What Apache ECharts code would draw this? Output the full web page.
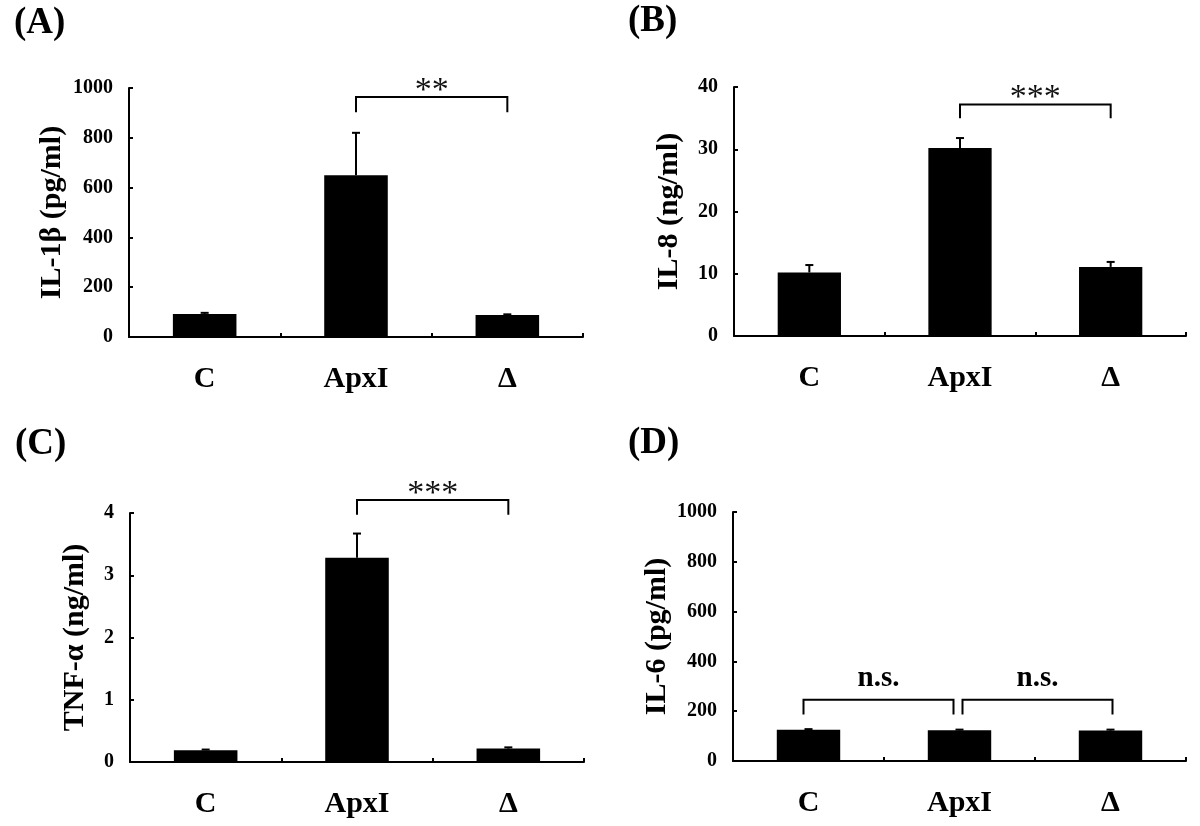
<!DOCTYPE html>
<html><head><meta charset="utf-8">
<script src="https://cdn.jsdelivr.net/npm/echarts@6/dist/echarts.min.js"></script>
<style>html,body{margin:0;padding:0;background:#fff}#chart{width:1200px;height:826px}</style>
</head><body><div id="chart"></div>
<script>
// ---------- data ----------
const categories = ['C', 'ApxI', 'Δ'];

const il1bMeans  = [92, 650, 88];
const il1bErrors = [5, 170, 3];
const il8Means   = [10.2, 30.2, 11.1];
const il8Errors  = [1.2, 1.6, 0.8];
const tnfMeans   = [0.19, 3.28, 0.215];
const tnfErrors  = [0.01, 0.39, 0.02];
const il6Means   = [126, 123, 122];
const il6Errors  = [2, 3, 4];

// y-axis ticks: [min, max, interval]
const il1bTicks = [0, 1000, 200];
const il8Ticks  = [0, 40, 10];
const tnfTicks  = [0, 4, 1];
const il6Ticks  = [0, 1000, 200];

// brackets: [fromCategory, toCategory, barValue, legEndValue, label]
const il1bBrackets = [[1, 2, 964, 903, '**']];
const il8Brackets  = [[1, 2, 37.2, 35.0, '***']];
const tnfBrackets  = [[1, 2, 4.21, 3.97, '***']];
const il6Brackets  = [[0, 1, 246, 187, 'n.s.'], [1, 2, 246, 187, 'n.s.']];

const panelLetters = ['(A)', '(B)', '(C)', '(D)'];
const yTitles = ['IL-1β (pg/ml)', 'IL-8 (ng/ml)', 'TNF-α (ng/ml)', 'IL-6 (pg/ml)'];

// ---------- layout / style ----------
const FONT = "'Liberation Serif', 'Times New Roman', serif";
const panels = [
  { means: il1bMeans, errs: il1bErrors, ticks: il1bTicks, brackets: il1bBrackets,
    grid: { left: 129, top: 88, width: 454, height: 249 }, nameGap: 62,
    shifts: [[0, 0]], bold: false, letterPos: [14, 5] },
  { means: il8Means, errs: il8Errors, ticks: il8Ticks, brackets: il8Brackets,
    grid: { left: 734, top: 87, width: 452, height: 249 }, nameGap: 50,
    shifts: [[0, 0]], bold: false, letterPos: [628, 3] },
  { means: tnfMeans, errs: tnfErrors, ticks: tnfTicks, brackets: tnfBrackets,
    grid: { left: 130, top: 513, width: 454, height: 249 }, nameGap: 40,
    shifts: [[0, 0]], bold: false, letterPos: [15, 426] },
  { means: il6Means, errs: il6Errors, ticks: il6Ticks, brackets: il6Brackets,
    grid: { left: 733, top: 512, width: 453, height: 249 }, nameGap: 61,
    shifts: [[-5, -6], [3, 2]], bold: true, letterPos: [628, 425] }
];

function errRender(params, api) {
  const x = api.value(0), m = api.value(1), e = api.value(2);
  const p0 = api.coord([x, m]);
  const p1 = api.coord([x, m + e]);
  const cap = 4;
  return { type: 'group', children: [
    { type: 'line', shape: { x1: p0[0], y1: p0[1], x2: p1[0], y2: p1[1] }, style: { stroke: '#000', lineWidth: 2 } },
    { type: 'line', shape: { x1: p1[0] - cap, y1: p1[1], x2: p1[0] + cap, y2: p1[1] }, style: { stroke: '#000', lineWidth: 2 } }
  ] };
}

function makeBracketRender(panel) {
  return function (params, api) {
    const b = panel.brackets[params.dataIndex];
    const s = panel.shifts[params.dataIndex] || [0, 0];
    const a = api.coord([b[0], b[2]]);
    const c = api.coord([b[1], b[2]]);
    const legY = api.coord([b[0], b[3]])[1];
    const x1 = a[0] + s[0], x2 = c[0] + s[1], y = a[1];
    const txt = panel.bold
      ? { text: b[4], x: (x1 + x2) / 2, y: y - 21, font: 'bold 29px ' + FONT, fill: '#000', align: 'center', verticalAlign: 'middle' }
      : { text: b[4], x: (x1 + x2) / 2, y: y - 6, font: '34px ' + FONT, fill: '#111', align: 'center', verticalAlign: 'middle' };
    return { type: 'group', children: [
      { type: 'polyline', shape: { points: [[x1, legY], [x1, y], [x2, y], [x2, legY]] },
        style: { stroke: '#000', lineWidth: 2, fill: 'none' } },
      { type: 'text', style: txt }
    ] };
  };
}

const option = {
  backgroundColor: '#fff',
  animation: false,
  grid: [], xAxis: [], yAxis: [], series: [], graphic: []
};

panels.forEach((p, i) => {
  option.grid.push(Object.assign({ containLabel: false }, p.grid));
  option.xAxis.push({
    type: 'category', gridIndex: i, data: categories, boundaryGap: true,
    axisLine: { lineStyle: { color: '#000', width: 2 } },
    axisTick: { show: true, inside: true, length: 4, alignWithLabel: false, lineStyle: { color: '#000', width: 2 } },
    axisLabel: { color: '#000', fontFamily: FONT, fontWeight: 'bold', fontSize: 30, margin: 27 },
    splitLine: { show: false }
  });
  option.yAxis.push({
    type: 'value', gridIndex: i, min: p.ticks[0], max: p.ticks[1], interval: p.ticks[2],
    name: yTitles[i], nameLocation: 'middle', nameGap: p.nameGap, nameRotate: 90,
    nameTextStyle: { color: '#000', fontFamily: FONT, fontWeight: 'bold', fontSize: 30 },
    axisLine: { show: true, lineStyle: { color: '#000', width: 2 } },
    axisTick: { show: true, inside: true, length: 4, lineStyle: { color: '#000', width: 2 } },
    axisLabel: { color: '#000', fontFamily: FONT, fontWeight: 'bold', fontSize: 20, margin: 16,
      formatter: v => String(v) },
    splitLine: { show: false }
  });
  option.series.push({
    type: 'bar', xAxisIndex: i, yAxisIndex: i, data: p.means, barWidth: '42%',
    itemStyle: { color: '#000' }, z: 2
  });
  option.series.push({
    type: 'custom', xAxisIndex: i, yAxisIndex: i, renderItem: errRender, z: 3,
    encode: { x: 0, y: 1 },
    data: p.means.map((m, k) => [k, m, p.errs[k]])
  });
  option.series.push({
    type: 'custom', xAxisIndex: i, yAxisIndex: i, renderItem: makeBracketRender(p), z: 4,
    encode: { x: 0, y: 1 }, clip: false,
    data: p.brackets.map(b => [b[0], b[2]])
  });
  option.graphic.push({
    type: 'text', left: p.letterPos[0], top: p.letterPos[1],
    style: { text: panelLetters[i], font: 'bold 37px ' + FONT, fill: '#000' }
  });
});

const chart = echarts.init(document.getElementById('chart'), null, { renderer: 'canvas' });
chart.setOption(option);
</script>
</body></html>
